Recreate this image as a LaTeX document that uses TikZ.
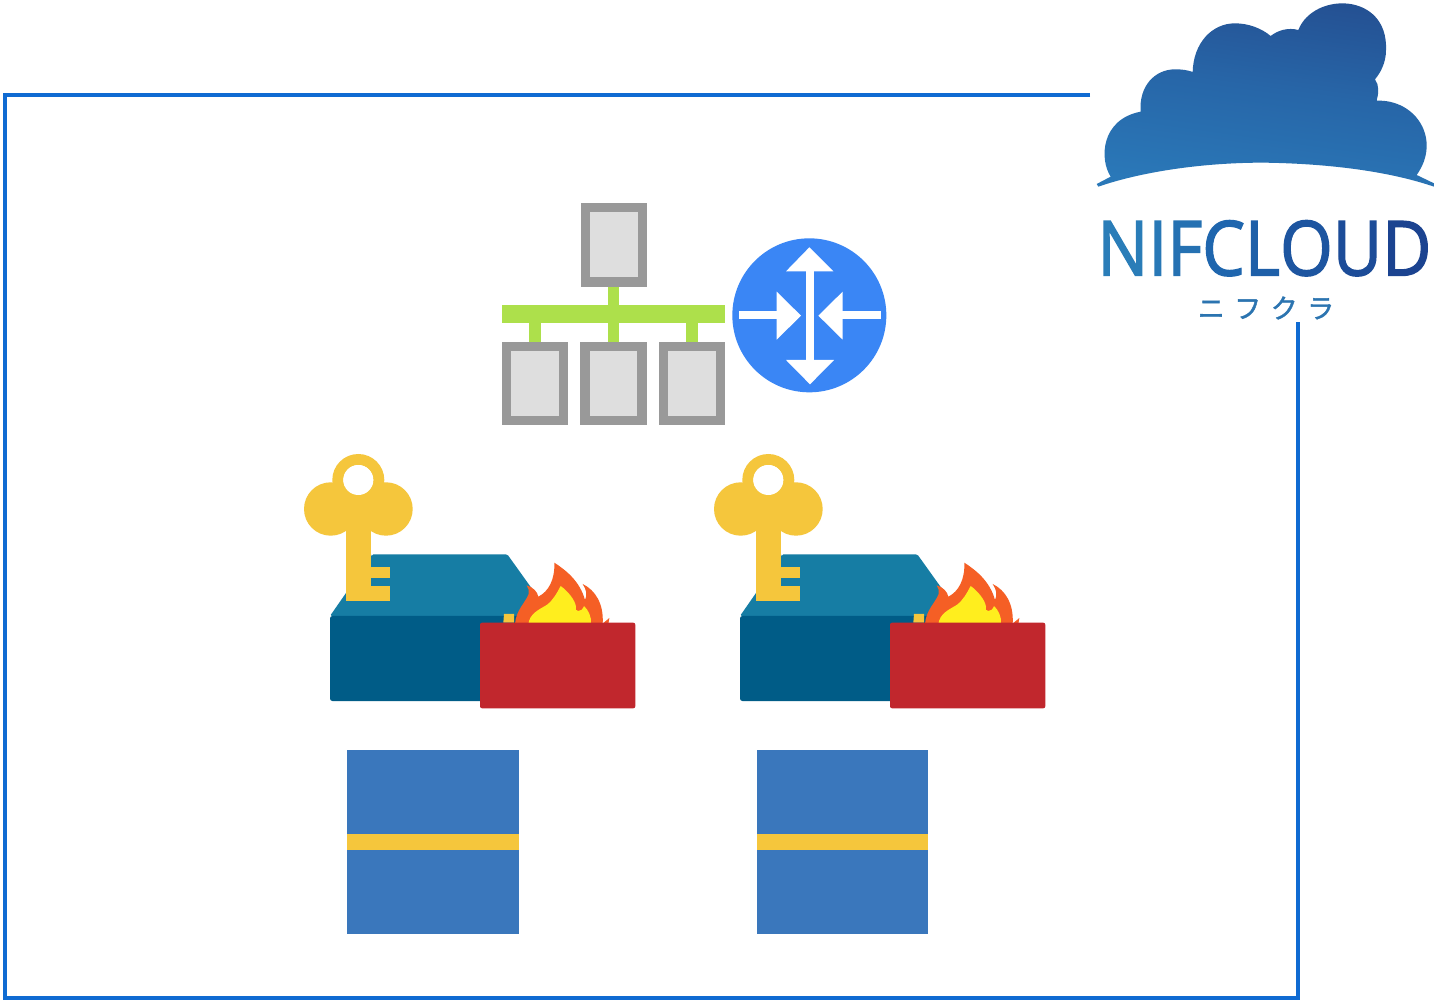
\documentclass[tikz,border=0pt]{standalone}
\usepackage{fontspec}
\usepackage{graphicx}
\setmainfont{Open Sans}
\newfontfamily\cjkfont{Noto Sans CJK JP}
\usetikzlibrary{calc}
\definecolor{framec}{HTML}{0F6BD2}
\definecolor{keyc}{HTML}{F5C63C}
\definecolor{boxtop}{HTML}{167DA4}
\definecolor{boxfront}{HTML}{005C87}
\definecolor{redc}{HTML}{C1272D}
\definecolor{flameo}{HTML}{F55F25}
\definecolor{flamey}{HTML}{FFEE1E}
\definecolor{dbblue}{HTML}{3A77BC}
\definecolor{greenc}{HTML}{ADE04B}
\definecolor{grayb}{HTML}{999999}
\definecolor{grayf}{HTML}{DEDEDE}
\definecolor{routerc}{HTML}{3A86F5}
\definecolor{na}{HTML}{2A7DB8}
\definecolor{nb}{HTML}{2878B6}
\definecolor{nc}{HTML}{2571B2}
\definecolor{nd}{HTML}{1F66AE}
\definecolor{ne}{HTML}{1E5FA8}
\definecolor{nf}{HTML}{1D55A0}
\definecolor{ng}{HTML}{1C4C98}
\definecolor{nh}{HTML}{1B4390}
\definecolor{kana}{HTML}{2B74B0}
\definecolor{cloudt}{HTML}{244E90}
\definecolor{cloudm}{HTML}{2766A8}
\definecolor{cloudb}{HTML}{2A78B8}
\tikzset{
  frameline/.style={draw=framec,line width=2pt,line join=miter},
  servbox/.style={fill=grayf,draw=grayb,line width=4.6pt},
  whitearrow/.style={fill=white,draw=none},
  firewall/.pic={
    % box
    \fill[boxtop,rounded corners=0.8pt] (371.7,554.3) -- (507.3,554.3) -- (535,593) -- (535,616) -- (330,616) -- (371.7,556) -- cycle;
    \fill[boxfront,rounded corners=1.2pt] (330,616) -- (535,616) -- (535,701) -- (330,701) -- cycle;
    % key
    \fill[keyc] (346,520) rectangle (371.3,600.7);
    \fill[keyc] (346,585.7) rectangle (390.3,600.7);
    \fill[keyc] (346,566.7) rectangle (390.3,577.7);
    \fill[keyc] (330.7,509) circle (26.7);
    \fill[keyc] (386,509) circle (26.7);
    \fill[keyc] (358.3,508) circle (20);
    \fill[keyc,even odd rule] (358.3,480) circle (26) (358.3,480) circle (15);
    \fill[white] (358.3,480) circle (15);
    % flame
    \begin{scope}[shift={(290,440)},scale=1/3]
      \fill[keyc] (640,548) -- (642,522) -- (672,522) -- (672,548) -- cycle;
      \fill[flameo] (675,552) .. controls (678,510) and (705,490) .. (716,462)
        .. controls (718,452) and (715,445) .. (710,436)
        .. controls (730,442) and (742,455) .. (745,470)
        .. controls (775,455) and (795,420) .. (793,368)
        .. controls (830,392) and (870,425) .. (885,480)
        .. controls (892,465) and (890,450) .. (878,432)
        .. controls (915,450) and (942,490) .. (938,552)
        -- (945,545) -- (958,534) -- (955,552) -- cycle;
      \fill[flamey] (715,552) .. controls (720,520) and (745,510) .. (770,495)
        .. controls (790,480) and (800,460) .. (812,438)
        .. controls (835,455) and (855,480) .. (858,500)
        .. controls (850,515) and (875,520) .. (882,498)
        .. controls (895,510) and (905,530) .. (903,552) -- cycle;
    \end{scope}
    % red panel
    \fill[redc,rounded corners=1pt] (480,622.7) rectangle (635.3,708.3);
  },
  dbstack/.pic={
    \fill[dbblue] (347,750) rectangle (519,934);
    \fill[keyc] (347,834) rectangle (519,850);
  }
}
\begin{document}
\begin{tikzpicture}[x=0.5pt,y=-0.5pt]
\useasboundingbox (0,0) rectangle (1434,1004);
\fill[white] (0,0) rectangle (1434,1004);

% frame
\coordinate (fa) at (1090,95);
\coordinate (fb) at (5,95);
\coordinate (fc) at (5,998);
\coordinate (fd) at (1298,998);
\coordinate (fe) at (1298,322);
\draw[frameline] (fa) -- (fb) -- (fc) -- (fd) -- (fe);

% cloud
\begin{scope}[shift={(1080,0)},scale=1/3]
  \path[top color=cloudt,bottom color=cloudb,middle color=cloudm,shading angle=-8]
    (50,552) -- (92,530)
    .. controls (58,478) and (62,358) .. (182,335)
    .. controls (176,258) and (225,208) .. (285,208)
    .. controls (305,208) and (322,210) .. (338,216)
    .. controls (340,130) and (395,70) .. (465,70)
    .. controls (505,70) and (545,85) .. (572,108)
    .. controls (595,90) and (625,82) .. (655,90)
    .. controls (700,-25) and (925,-25) .. (918,150)
    .. controls (918,190) and (900,220) .. (885,238)
    .. controls (898,255) and (896,280) .. (890,302)
    .. controls (1010,298) and (1085,420) .. (1010,525)
    -- (1062,550) -- (1062,560)
    .. controls (900,505) and (700,490) .. (550,488)
    .. controls (350,488) and (170,520) .. (55,560)
    -- cycle;
\end{scope}

% logo text
\node[inner sep=0pt,anchor=north west] (logotext) at (1097,220)
  {\resizebox{167pt}{27.5pt}{\addfontfeature{LetterSpace=6,FakeBold=2}\textcolor{na}{N}\textcolor{nb}{I}\textcolor{nc}{F}\textcolor{nd}{C}\textcolor{ne}{L}\textcolor{nf}{O}\textcolor{ng}{U}\textcolor{nh}{D}}};
\node[inner sep=0pt,text=kana,font=\cjkfont\fontsize{13.5pt}{15pt}\selectfont] (logokana) at (1266,308)
  {\addfontfeature{LetterSpace=35,FakeBold=1.5}ニフクラ};

% network
\begin{scope}[shift={(490,190)},scale=1/3]
  \fill[greenc] (354,280) rectangle (387,460);
  \fill[greenc] (36,344) rectangle (705,398);
  \fill[greenc] (118,398) rectangle (153,460);
  \fill[greenc] (588,398) rectangle (623,460);
  \draw[servbox] (286,52) rectangle (458,276);
  \draw[servbox] (50,469) rectangle (221,692);
  \draw[servbox] (285,469) rectangle (456,692);
  \draw[servbox] (520,469) rectangle (691,692);
  % router
  \fill[routerc] (958,376) circle (231);
  \fill[whitearrow] (947,240) rectangle (972,515);
  \fill[whitearrow] (958,172) -- (1030,244) -- (888,244) -- cycle;
  \fill[whitearrow] (960,583) -- (888,510) -- (1032,510) -- cycle;
  \fill[whitearrow] (746,364) rectangle (865,388);
  \fill[whitearrow] (860,305) -- (933,377) -- (860,449) -- cycle;
  \fill[whitearrow] (1053,364) rectangle (1172,388);
  \fill[whitearrow] (1058,305) -- (985,377) -- (1058,449) -- cycle;
\end{scope}

% firewall groups
\pic (fwa) at (0,0) {firewall};
\pic (fwb) at (410,0) {firewall};
\pic (dba) at (0,0) {dbstack};
\fill[dbblue] (757,750) rectangle (928,934);
\fill[keyc] (757,834) rectangle (928,850);
\end{tikzpicture}
\end{document}
